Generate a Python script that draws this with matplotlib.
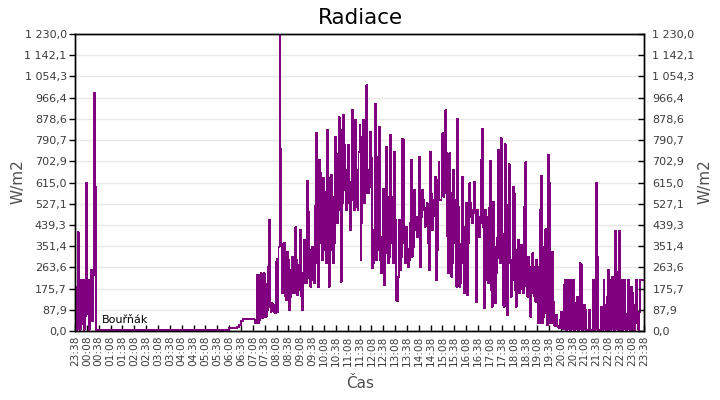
import numpy as np
import matplotlib
matplotlib.use("Agg")
import matplotlib.pyplot as plt

# 5-minute bins starting at 23:38; per bin an upper and lower reading (W/m2)
bin_minutes = 5
hi = [184, 408, 211, 211, 211, 615, 211, 211, 252, 987, 598,
      6, 6, 6, 6, 6, 6, 6, 6, 6, 6, 6, 6, 6, 6, 6, 6, 6, 6, 6, 6,
      6, 6, 6, 6, 6, 6, 6, 6, 6, 6, 6, 6, 6, 6, 6, 6, 6, 6, 6, 6,
      6, 6, 6, 6, 6, 6, 6, 6, 6, 6, 6, 6, 6, 6, 6, 6, 6, 6, 6, 6,
      6, 6, 6, 6, 6, 6, 6,
      12, 12, 12, 12, 18, 25, 40, 48, 48, 48, 48, 48, 48, 34,
      232, 232, 239, 239, 197, 266, 460, 115, 108, 287, 297, 1230, 753,
      363, 363, 328, 294, 253, 308, 429, 294, 273, 418, 239, 377, 621,
      494, 335, 349, 519, 822, 708, 653, 632, 577, 832, 635, 646, 556,
      805, 736, 885, 832, 894, 770, 667, 770, 618,
      915, 874, 667, 742, 853, 805, 874, 1018, 667, 825, 715, 418, 940,
      722, 846, 390, 590, 763, 556, 811, 556, 742, 460, 225, 460, 795,
      791, 432, 342, 446, 708, 584, 473, 473, 722, 584, 542, 508, 529,
      742, 570, 542, 639, 625, 701, 577, 818, 915, 736, 736,
      570, 667, 542, 880, 515, 363, 639, 432, 529, 611, 529, 501, 618,
      501, 473, 708, 836, 501, 473, 508, 704, 535, 349, 384, 749, 798,
      404, 773, 522, 690, 294, 598, 570, 335, 377, 356, 356, 515, 698,
      308, 266, 322, 266, 294, 266, 501, 643, 349, 421, 729, 615, 328,
      121, 66, 22, 46, 80, 190, 211, 211, 211, 211, 211, 115, 142, 280,
      276, 108, 87, 6, 87, 6, 211, 615, 308, 6, 101, 211, 108, 142, 253,
      211, 225, 414, 246, 414, 211, 211, 211, 73, 211, 184, 156, 110,
      211, 80, 211, 211]
lo = [6, 6, 6, 30, 6, 60, 70, 6, 40, 230, 6,
      6, 6, 6, 6, 6, 6, 6, 6, 6, 6, 6, 6, 6, 6, 6, 6, 6, 6, 6, 6,
      6, 6, 6, 6, 6, 6, 6, 6, 6, 6, 6, 6, 6, 6, 6, 6, 6, 6, 6, 6,
      6, 6, 6, 6, 6, 6, 6, 6, 6, 6, 6, 6, 6, 6, 6, 6, 6, 6, 6, 6,
      6, 6, 6, 6, 6, 6, 6,
      12, 12, 12, 12, 18, 25, 40, 48, 48, 48, 48, 48, 48, 34,
      34, 45, 52, 55, 59, 87, 100, 80, 80, 73, 80, 349, 349,
      156, 142, 128, 87, 142, 156, 156, 149, 170, 142, 87, 197, 197,
      218, 184, 211, 197, 280, 184, 363, 294, 335, 280, 184, 335, 280,
      363, 446, 501, 204, 529, 584, 501, 529, 418,
      542, 500, 514, 500, 294, 446, 528, 570, 570, 598, 259, 280, 294,
      335, 294, 239, 190, 322, 280, 308, 363, 280, 128, 126, 253, 308,
      363, 280, 266, 294, 308, 349, 418, 390, 266, 473, 501, 432, 363,
      253, 418, 473, 211, 335, 542, 542, 556, 570, 390, 239,
      225, 280, 363, 184, 184, 197, 280, 156, 149, 363, 473, 446, 487,
      121, 390, 446, 432, 94, 211, 197, 170, 101, 115, 239, 301, 280,
      108, 101, 66, 280, 142, 211, 170, 101, 156, 170, 170, 156, 184,
      142, 59, 156, 142, 121, 32, 32, 32, 59, 73, 25, 32, 32,
      25, 21, 18, 14, 14, 8, 6, 6, 6, 6, 6, 6, 6, 6,
      6, 6, 6, 6, 6, 6, 6, 6, 6, 6, 6, 6, 6, 6, 6,
      6, 6, 6, 6, 6, 6, 6, 6, 6, 6, 6, 6, 6,
      32, 6, 211, 211]

x_tick_labels = ["23:38", "00:08", "00:38", "01:08", "01:38", "02:08", "02:38",
                 "03:08", "03:38", "04:08", "04:38", "05:08", "05:38", "06:08",
                 "06:38", "07:08", "07:38", "08:08", "08:38", "09:08", "09:38",
                 "10:08", "10:38", "11:08", "11:38", "12:08", "12:38", "13:08",
                 "13:38", "14:08", "14:38", "15:08", "15:38", "16:08", "16:38",
                 "17:08", "17:38", "18:08", "18:38", "19:08", "19:38", "20:08",
                 "20:38", "21:08", "21:38", "22:08", "22:38", "23:08", "23:38"]
x_tick_step = 30
y_tick_labels = ["0,0", "87,9", "175,7", "263,6", "351,4", "439,3", "527,1",
                 "615,0", "702,9", "790,7", "878,6", "966,4", "1 054,3",
                 "1 142,1", "1 230,0"]
y_max = 1230.0
title = "Radiace"
x_label = "Čas"
y_label = "W/m2"
series_name = "Bouřňák"

line_color = "#800080"
text_color = "#3c3c3c"

# order readings within each bin alternately (hi,lo) / (lo,hi)
hi_a = np.asarray(hi, dtype=float)
lo_a = np.asarray(lo, dtype=float)
first = np.where(np.arange(len(hi_a)) % 2 == 0, hi_a, lo_a)
second = np.where(np.arange(len(hi_a)) % 2 == 0, lo_a, hi_a)
vals = np.empty(2 * len(hi_a))
vals[0::2] = first
vals[1::2] = second
edges = np.arange(len(vals) + 1) * bin_minutes / 2.0

fig = plt.figure(figsize=(7.2, 4.0), dpi=100)
ax = fig.add_axes([75 / 720, 1 - 331 / 400, (644 - 75) / 720, (331 - 34) / 400])
st = ax.stairs(vals, edges, baseline=None, color=line_color, lw=0.7, zorder=3)
st.set_antialiased(False)
ax.set_xlim(0, len(hi) * bin_minutes)
ax.set_ylim(0, y_max)

yt = np.linspace(0, y_max, len(y_tick_labels))
ax.set_yticks(yt)
ax.set_yticklabels(y_tick_labels, fontsize=8, color=text_color)
ax.grid(axis="y", color="#e8e8e8", lw=1, zorder=0)
ax.set_axisbelow(True)
ax.tick_params(axis="y", direction="out", length=4, width=1, pad=2)

xt = np.arange(len(x_tick_labels)) * x_tick_step
ax.set_xticks(xt)
ax.set_xticklabels(x_tick_labels, rotation=90, fontsize=7.6, color=text_color)
ax.tick_params(axis="x", direction="in", length=4, width=1, pad=3)

for s in ax.spines.values():
    s.set_color("black")
    s.set_linewidth(1)

ax2 = ax.twinx()
ax2.set_ylim(0, y_max)
ax2.set_yticks(yt)
ax2.set_yticklabels(y_tick_labels, fontsize=8, color=text_color)
ax2.tick_params(axis="y", direction="in", length=4, width=1, pad=6)
for s in ax2.spines.values():
    s.set_color("black")
    s.set_linewidth(1)

fig.text(360 / 720, 1 - 18 / 400, title, ha="center", va="center", fontsize=15.5, color="black")
fig.text(18 / 720, 1 - 182 / 400, y_label, rotation=90, ha="center", va="center", fontsize=11, color="#505050")
fig.text(705 / 720, 1 - 182 / 400, y_label, rotation=90, ha="center", va="center", fontsize=11, color="#505050")
fig.text(360 / 720, 1 - 383 / 400, x_label, ha="center", va="center", fontsize=11, color="#505050")
ax.text(0.047, 0.038, series_name, transform=ax.transAxes, ha="left", va="center", fontsize=8, color="black", zorder=5)

fig.savefig("out.png", dpi=100)
